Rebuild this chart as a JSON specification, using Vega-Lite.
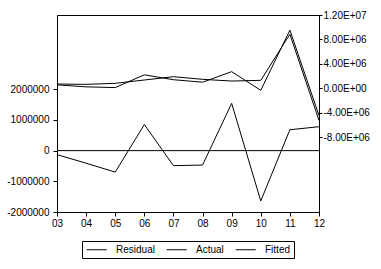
{
  "$schema": "https://vega.github.io/schema/vega-lite/v6.json",
  "autosize": {"type": "none"},
  "padding": {"left": 57, "top": 15, "right": 62, "bottom": 57},
  "width": 262,
  "height": 197,
  "background": "white",
  "config": {
    "font": "Liberation Sans",
    "view": {"stroke": "black", "strokeWidth": 1},
    "axis": {
      "grid": false,
      "domainColor": "black",
      "tickColor": "black",
      "labelColor": "black",
      "labelFont": "Liberation Sans",
      "labelFontSize": 10,
      "tickSize": 4,
      "title": null
    },
    "legend": {
      "orient": "none",
      "legendX": 25,
      "legendY": 226,
      "direction": "horizontal",
      "strokeColor": "black",
      "fillColor": "white",
      "padding": 3,
      "symbolType": "M-0.76,0H3.24",
      "symbolSize": 100,
      "symbolStrokeWidth": 1,
      "labelFont": "Liberation Sans",
      "labelFontSize": 10,
      "labelColor": "black",
      "columnPadding": 9,
      "labelOffset": 20
    }
  },
  "datasets": {
    "rows": [
      {"year": "03", "series": "Residual", "value": -130000},
      {"year": "04", "series": "Residual", "value": -410000},
      {"year": "05", "series": "Residual", "value": -700000},
      {"year": "06", "series": "Residual", "value": 850000},
      {"year": "07", "series": "Residual", "value": -490000},
      {"year": "08", "series": "Residual", "value": -470000},
      {"year": "09", "series": "Residual", "value": 1540000},
      {"year": "10", "series": "Residual", "value": -1640000},
      {"year": "11", "series": "Residual", "value": 680000},
      {"year": "12", "series": "Residual", "value": 780000},
      {"year": "03", "series": "Actual", "value": 570000},
      {"year": "04", "series": "Actual", "value": 240000},
      {"year": "05", "series": "Actual", "value": 120000},
      {"year": "06", "series": "Actual", "value": 2210000},
      {"year": "07", "series": "Actual", "value": 1410000},
      {"year": "08", "series": "Actual", "value": 1000000},
      {"year": "09", "series": "Actual", "value": 2730000},
      {"year": "10", "series": "Actual", "value": -330000},
      {"year": "11", "series": "Actual", "value": 9530000},
      {"year": "12", "series": "Actual", "value": -4460000},
      {"year": "03", "series": "Fitted", "value": 700000},
      {"year": "04", "series": "Fitted", "value": 650000},
      {"year": "05", "series": "Fitted", "value": 820000},
      {"year": "06", "series": "Fitted", "value": 1360000},
      {"year": "07", "series": "Fitted", "value": 1900000},
      {"year": "08", "series": "Fitted", "value": 1470000},
      {"year": "09", "series": "Fitted", "value": 1190000},
      {"year": "10", "series": "Fitted", "value": 1310000},
      {"year": "11", "series": "Fitted", "value": 8850000},
      {"year": "12", "series": "Fitted", "value": -5240000}
    ],
    "zero": [{"z": 0}]
  },
  "layer": [
    {
      "layer": [
        {
          "data": {"name": "zero"},
          "mark": {"type": "rule", "color": "black", "strokeWidth": 1},
          "encoding": {
            "y": {"field": "z", "type": "quantitative",
                  "scale": {"domain": [-2000000, 4420000], "nice": false, "zero": false}}
          }
        },
        {
          "data": {"name": "rows"},
          "transform": [{"filter": "datum.series == 'Residual'"}],
          "mark": {"type": "line", "strokeWidth": 1},
          "encoding": {
            "x": {"field": "year", "type": "ordinal", "scale": {"type": "point", "padding": 0},
                  "axis": {"labelAngle": 0, "labelPadding": 2, "title": null}},
            "y": {"field": "value", "type": "quantitative",
                  "scale": {"domain": [-2000000, 4420000], "nice": false, "zero": false},
                  "axis": {"orient": "left", "values": [-2000000, -1000000, 0, 1000000, 2000000],
                           "labelExpr": "replace(format(datum.value, 'd'), '\u2212', '-')",
                           "labelPadding": 4, "title": null}},
            "color": {"field": "series", "type": "nominal",
                      "scale": {"domain": ["Residual", "Actual", "Fitted"], "range": ["black", "black", "black"]},
                      "legend": {"title": null}}
          }
        }
      ]
    },
    {
      "data": {"name": "rows"},
      "transform": [{"filter": "datum.series != 'Residual'"}],
      "mark": {"type": "line", "strokeWidth": 1},
      "encoding": {
        "x": {"field": "year", "type": "ordinal", "scale": {"type": "point", "padding": 0}},
        "y": {"field": "value", "type": "quantitative",
              "scale": {"domain": [-20240000, 12000000], "nice": false, "zero": false},
              "axis": {"orient": "right", "values": [-8000000, -4000000, 0, 4000000, 8000000, 12000000],
                       "labelExpr": "replace(replace(upper(format(datum.value, '.2e')), 'E+', 'E+0'), '\u2212', '-')",
                       "tickSize": 3, "labelPadding": 1, "title": null}},
        "color": {"field": "series", "type": "nominal",
                  "scale": {"domain": ["Residual", "Actual", "Fitted"], "range": ["black", "black", "black"]},
                  "legend": {"title": null}}
      }
    }
  ],
  "resolve": {"scale": {"y": "independent"}}
}
